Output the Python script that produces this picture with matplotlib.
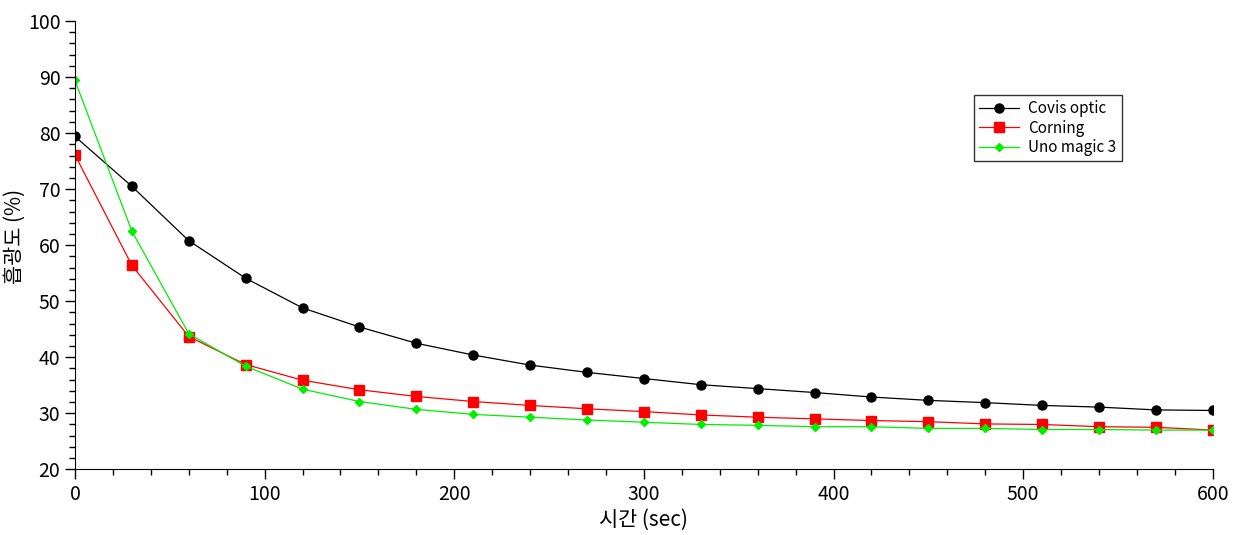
import matplotlib.pyplot as plt
import numpy as np
from matplotlib.ticker import MultipleLocator

plt.rcParams['font.family'] = ['Noto Sans CJK KR', 'DejaVu Sans']

# time points (sec)
t = np.arange(0, 601, 30)

# absorbance (%)
covis = [79.4, 70.5, 60.8, 54.1, 48.8, 45.4, 42.5, 40.4, 38.6, 37.3, 36.2,
         35.1, 34.4, 33.7, 32.9, 32.3, 31.9, 31.4, 31.1, 30.6, 30.5]
corning = [76.1, 56.4, 43.7, 38.7, 35.9, 34.2, 33.0, 32.1, 31.4, 30.8, 30.3,
           29.7, 29.3, 29.0, 28.7, 28.5, 28.1, 28.0, 27.6, 27.5, 27.0]
uno = [89.4, 62.5, 44.2, 38.4, 34.3, 32.1, 30.7, 29.8, 29.3, 28.8, 28.4,
       28.0, 27.85, 27.6, 27.6, 27.3, 27.3, 27.1, 27.1, 27.0, 27.0]

fig = plt.figure(figsize=(12.35, 5.35), dpi=100)
ax = fig.add_axes([0.0607, 0.1228, 0.9213, 0.8379])

ax.plot(t, covis, color='black', lw=0.9, marker='o', ms=6.5, label='Covis optic')
ax.plot(t, corning, color='#ff0000', lw=0.9, marker='s', ms=6.5, label='Corning')
ax.plot(t, uno, color='#00ee00', lw=0.9, marker='D', ms=4, label='Uno magic 3')

ax.set_xlim(0, 600)
ax.set_ylim(20, 100)
ax.xaxis.set_major_locator(MultipleLocator(100))
ax.xaxis.set_minor_locator(MultipleLocator(20))
ax.yaxis.set_major_locator(MultipleLocator(10))
ax.yaxis.set_minor_locator(MultipleLocator(2))
ax.tick_params(which='major', direction='out', length=7, width=1, labelsize=14, colors='black')
ax.tick_params(which='minor', direction='out', length=4, width=1)
ax.spines['top'].set_visible(False)
ax.spines['right'].set_visible(False)

ax.set_xlabel('시간 (sec)', fontsize=15, labelpad=3)
ax.set_ylabel('흡광도 (%)', fontsize=15)
ax.yaxis.set_label_coords(-0.043, 0.52)

leg = ax.legend(loc='upper left', bbox_to_anchor=(0.79, 0.835), fontsize=11,
                frameon=True, fancybox=False, edgecolor='black', handlelength=2.6,
                borderpad=0.35, labelspacing=0.15, handletextpad=0.6,
                borderaxespad=0)
leg.get_frame().set_linewidth(1)

fig.savefig('out.png', dpi=100)
